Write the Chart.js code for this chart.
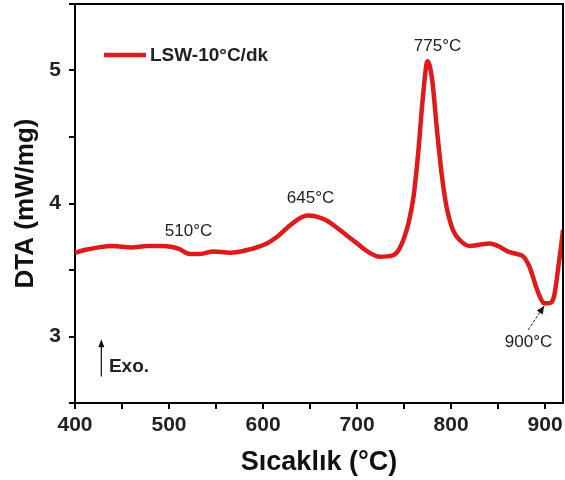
<!DOCTYPE html>
<html>
<head>
<meta charset="utf-8">
<script src="https://cdn.jsdelivr.net/npm/chart.js@4.4.1/dist/chart.umd.min.js"></script>
<style>
  html, body { margin: 0; padding: 0; background: #fff; }
  #wrap { width: 565px; height: 480px; position: relative; }
</style>
</head>
<body>
<div id="wrap"><canvas id="c" width="565" height="480"></canvas></div>
<script>
// ---- data ----
const temperature = [400,410,425,440,460,477,495,510,522,533,547,565,583,604,615,626,637,647,658,668,680,689,700,711,724,738,745,750,755,760,765,770,775,780,785,790,795,802,810,820,830,841,850,860,870,877,883,887,891,895,899,903,907,910,914,917,919];
const dta = [3.63,3.65,3.67,3.68,3.67,3.68,3.68,3.66,3.62,3.62,3.64,3.63,3.65,3.70,3.75,3.82,3.88,3.91,3.90,3.87,3.81,3.76,3.70,3.64,3.60,3.61,3.66,3.74,3.86,4.05,4.38,4.80,5.07,4.92,4.55,4.22,3.98,3.80,3.72,3.68,3.69,3.70,3.68,3.64,3.62,3.60,3.53,3.45,3.36,3.29,3.25,3.25,3.26,3.32,3.52,3.68,3.80];
const seriesLabel = 'LSW-10°C/dk';
const xTickLabels = [400,500,600,700,800,900];
const yTickLabels = [3,4,5];
const peakLabels = ['510°C','645°C','775°C','900°C'];
const peakLabelX = [520.7, 650.5, 785.6, 882.4];
const peakLabelY = [3.79, 4.04, 5.18, 2.96];
const exoLabel = 'Exo.';

const FONT = "'Liberation Sans', Arial, sans-serif";
const RED = '#e01a1a';

const overlay = {
  id: 'overlay',
  afterDraw(chart) {
    const {ctx, chartArea: a, scales: {x, y}} = chart;
    ctx.save();
    // frame (top & right)
    ctx.strokeStyle = '#000';
    ctx.lineWidth = 2;
    ctx.beginPath();
    ctx.moveTo(a.left, a.top); ctx.lineTo(a.right, a.top); ctx.lineTo(a.right, a.bottom);
    ctx.stroke();

    // legend
    const ly = 55;
    ctx.strokeStyle = RED;
    ctx.lineWidth = 4.5;
    ctx.beginPath(); ctx.moveTo(104, ly); ctx.lineTo(146, ly); ctx.stroke();
    ctx.fillStyle = '#222';
    ctx.font = 'bold 19px ' + FONT;
    ctx.textAlign = 'left'; ctx.textBaseline = 'middle';
    ctx.fillText(seriesLabel, 150, ly + 1);

    // peak labels
    ctx.font = '17px ' + FONT;
    ctx.textAlign = 'center';
    ctx.fillStyle = '#222';
    for (let i = 0; i < peakLabels.length; i++) {
      ctx.fillText(peakLabels[i], x.getPixelForValue(peakLabelX[i]), y.getPixelForValue(peakLabelY[i]));
    }

    // arrow to 900 °C minimum
    const x0 = x.getPixelForValue(882), y0 = y.getPixelForValue(3.05);
    const x1 = x.getPixelForValue(899), y1 = y.getPixelForValue(3.23);
    ctx.strokeStyle = '#222'; ctx.lineWidth = 1;
    ctx.setLineDash([3, 1.5]);
    ctx.beginPath(); ctx.moveTo(x0, y0); ctx.lineTo(x1, y1); ctx.stroke();
    ctx.setLineDash([]);
    const ang = Math.atan2(y1 - y0, x1 - x0);
    ctx.fillStyle = '#111';
    ctx.beginPath();
    ctx.moveTo(x1, y1);
    ctx.lineTo(x1 - 8 * Math.cos(ang) + 3.5 * Math.sin(ang), y1 - 8 * Math.sin(ang) - 3.5 * Math.cos(ang));
    ctx.lineTo(x1 - 8 * Math.cos(ang) - 3.5 * Math.sin(ang), y1 - 8 * Math.sin(ang) + 3.5 * Math.cos(ang));
    ctx.closePath(); ctx.fill();

    // Exo. arrow
    const ex = x.getPixelForValue(428);
    const eyb = y.getPixelForValue(2.70), eyt = y.getPixelForValue(2.98);
    ctx.strokeStyle = '#111'; ctx.lineWidth = 1.2;
    ctx.beginPath(); ctx.moveTo(ex, eyb); ctx.lineTo(ex, eyt + 5); ctx.stroke();
    ctx.beginPath();
    ctx.moveTo(ex, eyt); ctx.lineTo(ex - 3, eyt + 8); ctx.lineTo(ex + 3, eyt + 8); ctx.closePath(); ctx.fill();
    ctx.font = 'bold 19px ' + FONT;
    ctx.textAlign = 'center';
    ctx.fillStyle = '#222';
    ctx.fillText(exoLabel, x.getPixelForValue(457.4), y.getPixelForValue(2.77));
    ctx.restore();
  }
};

new Chart(document.getElementById('c'), {
  type: 'line',
  data: {
    datasets: [{
      label: seriesLabel,
      data: temperature.map((t, i) => ({x: t, y: dta[i]})),
      borderColor: RED,
      borderWidth: 4.5,
      pointRadius: 0,
      fill: false,
      cubicInterpolationMode: 'monotone'
    }]
  },
  options: {
    responsive: false,
    animation: false,
    layout: { padding: { top: 4, right: 2, left: 0, bottom: 0 } },
    plugins: { legend: { display: false }, tooltip: { enabled: false } },
    scales: {
      x: {
        type: 'linear', position: 'bottom', min: 400, max: 919,
        afterFit: s => { s.height = 77; s.paddingLeft = 0; s.paddingRight = 0; },
        border: { display: true, color: '#000', width: 2 },
        grid: { drawOnChartArea: false, drawTicks: true, tickLength: 6, color: '#000', lineWidth: 2 },
        ticks: {
          stepSize: 50, includeBounds: false, autoSkip: false, maxRotation: 0, padding: 4,
          color: '#222', font: { family: FONT, size: 21, weight: 'bold' },
          callback: v => xTickLabels.includes(v) ? String(v) : ''
        },
        title: { display: true, text: 'Sıcaklık (°C)', color: '#111', font: { family: FONT, size: 27, weight: 'bold' }, padding: { top: 0, bottom: 1 } }
      },
      y: {
        type: 'linear', min: 2.5, max: 5.5,
        afterFit: s => { s.width = 75; s.paddingTop = 0; s.paddingBottom = 0; },
        border: { display: true, color: '#000', width: 2 },
        grid: { drawOnChartArea: false, drawTicks: true, tickLength: 6, color: '#000', lineWidth: 2 },
        ticks: {
          stepSize: 0.5, includeBounds: false, autoSkip: false, padding: 8,
          color: '#222', font: { family: FONT, size: 21, weight: 'bold' },
          callback: v => yTickLabels.includes(v) ? String(v) : ''
        },
        title: { display: true, text: 'DTA (mW/mg)', color: '#111', font: { family: FONT, size: 26, weight: 'bold' }, padding: { top: 10, bottom: 0 } }
      }
    }
  },
  plugins: [overlay]
});
</script>
</body>
</html>
